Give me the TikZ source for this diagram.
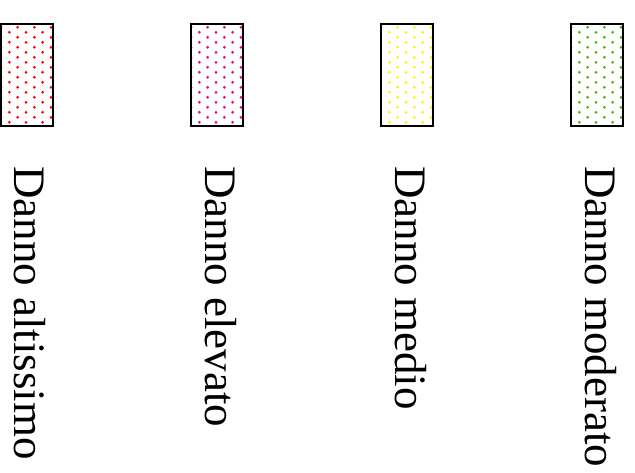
\documentclass[tikz,border=0pt]{standalone}
\usepackage{fontspec}
\setmainfont{Liberation Serif}
\definecolor{dgreen}{RGB}{76,176,0}
\begin{document}
\begin{tikzpicture}[x=1pt,y=-1pt,
  box/.style={draw=black, line width=1.5pt},
  lab/.style={rotate=-90, anchor=base west, inner sep=0pt, font=\fontsize{45}{45}\selectfont}]
\useasboundingbox (0,0) rectangle (635,472);
\foreach \i/\c/\t in {0/red/Danno altissimo, 1/magenta/Danno elevato, 2/yellow/Danno medio, 3/dgreen/Danno moderato} {
  \begin{scope}[shift={(\i*190,0)}]
    \begin{scope}
      \clip (1,24) rectangle (53,126);
      \foreach \r in {0,...,19} {
        \foreach \k in {0,...,3} {
          \fill[\c] ({1+mod(\r,2)*8.33+\k*16.67},{27.3+5*\r}) circle (1.5);
        }
      }
    \end{scope}
    \draw[box] (1,24) rectangle (53,126);
    \node[lab] (l\i) at (15,166) {\t};
  \end{scope}
}
\end{tikzpicture}
\end{document}
